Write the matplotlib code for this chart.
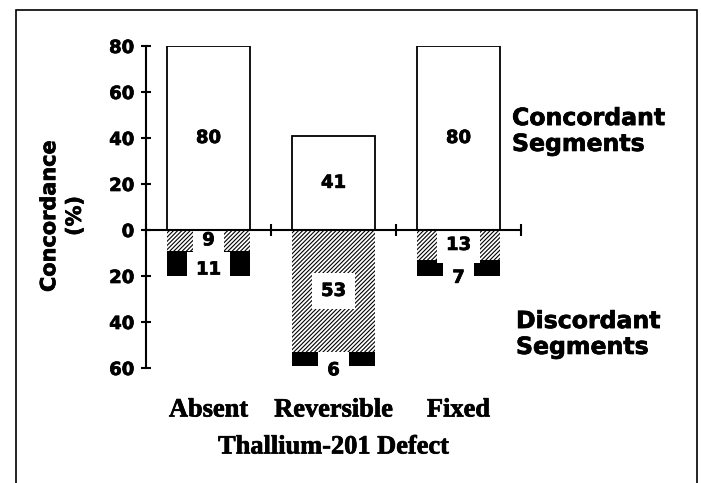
import matplotlib
matplotlib.use("Agg")
import matplotlib.pyplot as plt
import matplotlib.patches as mpatches
import matplotlib.transforms as mtransforms
import matplotlib.patheffects as pe

categories = ["Absent", "Reversible", "Fixed"]
concordant = [80, 41, 80]
discordant_hatched = [9, 53, 13]
discordant_black = [11, 6, 7]
# where the black-segment numbers sit, relative to the bar bottom
black_label_dy = [2.8, -2.0, -0.8]

yticks = [-60, -40, -20, 0, 20, 40, 60, 80]
ytick_labels = ["60", "40", "20", "0", "20", "40", "60", "80"]

plt.rcParams['hatch.linewidth'] = 0.8
sans = ["DejaVu Sans"]
serif = ["Liberation Serif", "DejaVu Serif"]
heavy = [pe.withStroke(linewidth=0.5, foreground="black")]

fig = plt.figure(figsize=(7.01, 4.83), dpi=100)
ax = fig.add_axes([146 / 701, 1 - 368 / 483, 375 / 701, 322 / 483])

x = list(range(len(categories)))
w = 0.67

# concordant (positive) bars
ax.bar(x, concordant, width=w, color="white", edgecolor="black", linewidth=1.3, zorder=1)

# discordant (negative) bars: hatched then black
neg_h = [-v for v in discordant_hatched]
ax.bar(x, neg_h, width=w, color="white", edgecolor="black", linewidth=0,
       hatch="////////", zorder=1)
neg_b = [-v for v in discordant_black]
ax.bar(x, neg_b, bottom=neg_h, width=w, color="black", edgecolor="black",
       linewidth=0, zorder=1)

box = dict(boxstyle="square,pad=0.5", facecolor="white", edgecolor="none")
num_kw = dict(ha="center", va="center", fontsize=13, fontweight="bold",
              family=sans, zorder=2, path_effects=heavy)
for i in x:
    ax.text(i, concordant[i] / 2, str(concordant[i]), **num_kw)
    ax.text(i, -discordant_hatched[i] / 2, str(discordant_hatched[i]),
            bbox=box, **num_kw)
    bottom = -(discordant_hatched[i] + discordant_black[i])
    ax.text(i, bottom + black_label_dy[i], str(discordant_black[i]),
            bbox=box, **num_kw)

ax.set_xlim(-0.5, 2.5)
ax.set_ylim(-60, 80)

for s in ["top", "right"]:
    ax.spines[s].set_visible(False)
ax.spines["bottom"].set_position(("data", 0))
ax.spines["left"].set_linewidth(1.5)
ax.spines["bottom"].set_linewidth(1.5)

ax.set_xticks([-0.5, 0.5, 1.5, 2.5])
ax.set_xticklabels([])
ax.tick_params(axis="x", direction="inout", length=8, width=1.5)

ax.set_yticks(yticks)
ax.set_yticklabels(ytick_labels, fontsize=13, fontweight="bold", family=sans)
for lab in ax.get_yticklabels():
    lab.set_path_effects(heavy)
ax.tick_params(axis="y", direction="inout", length=7, width=1.5, pad=5)

# category labels under the plot
trans = mtransforms.blended_transform_factory(ax.transData, fig.transFigure)
for i, c in enumerate(categories):
    ax.text(i, 1 - 410 / 483, c, transform=trans, ha="center", va="center",
            fontsize=19, fontweight="bold", family=serif, path_effects=heavy)
fig.text((146 + 521) / 2 / 701, 1 - 447 / 483, "Thallium-201 Defect",
         ha="center", va="center", fontsize=19, fontweight="bold", family=serif,
         path_effects=heavy)

fig.text(62 / 701, 1 - 216 / 483, "Concordance\n(%)", rotation=90,
         ha="center", va="center", fontsize=15, fontweight="bold",
         family=sans, linespacing=1.35, multialignment="center",
         path_effects=heavy)

fig.text(512 / 701, 1 - 131 / 483, "Concordant\nSegments", ha="left", va="center",
         fontsize=17, fontweight="bold", family=sans, linespacing=1.1,
         path_effects=heavy)
fig.text(516 / 701, 1 - 334 / 483, "Discordant\nSegments", ha="left", va="center",
         fontsize=17, fontweight="bold", family=sans, linespacing=1.1,
         path_effects=heavy)

# outer frame of the panel, in pixel units (runs off the bottom edge)
px = mtransforms.Affine2D().scale(1 / 701, 1 / 483) + fig.transFigure
frame = mpatches.Rectangle((16, -20), 697 - 16, 473 + 20, transform=px,
                           fill=False, edgecolor="black", linewidth=1.2)
fig.add_artist(frame)

fig.savefig("out.png", dpi=100)
